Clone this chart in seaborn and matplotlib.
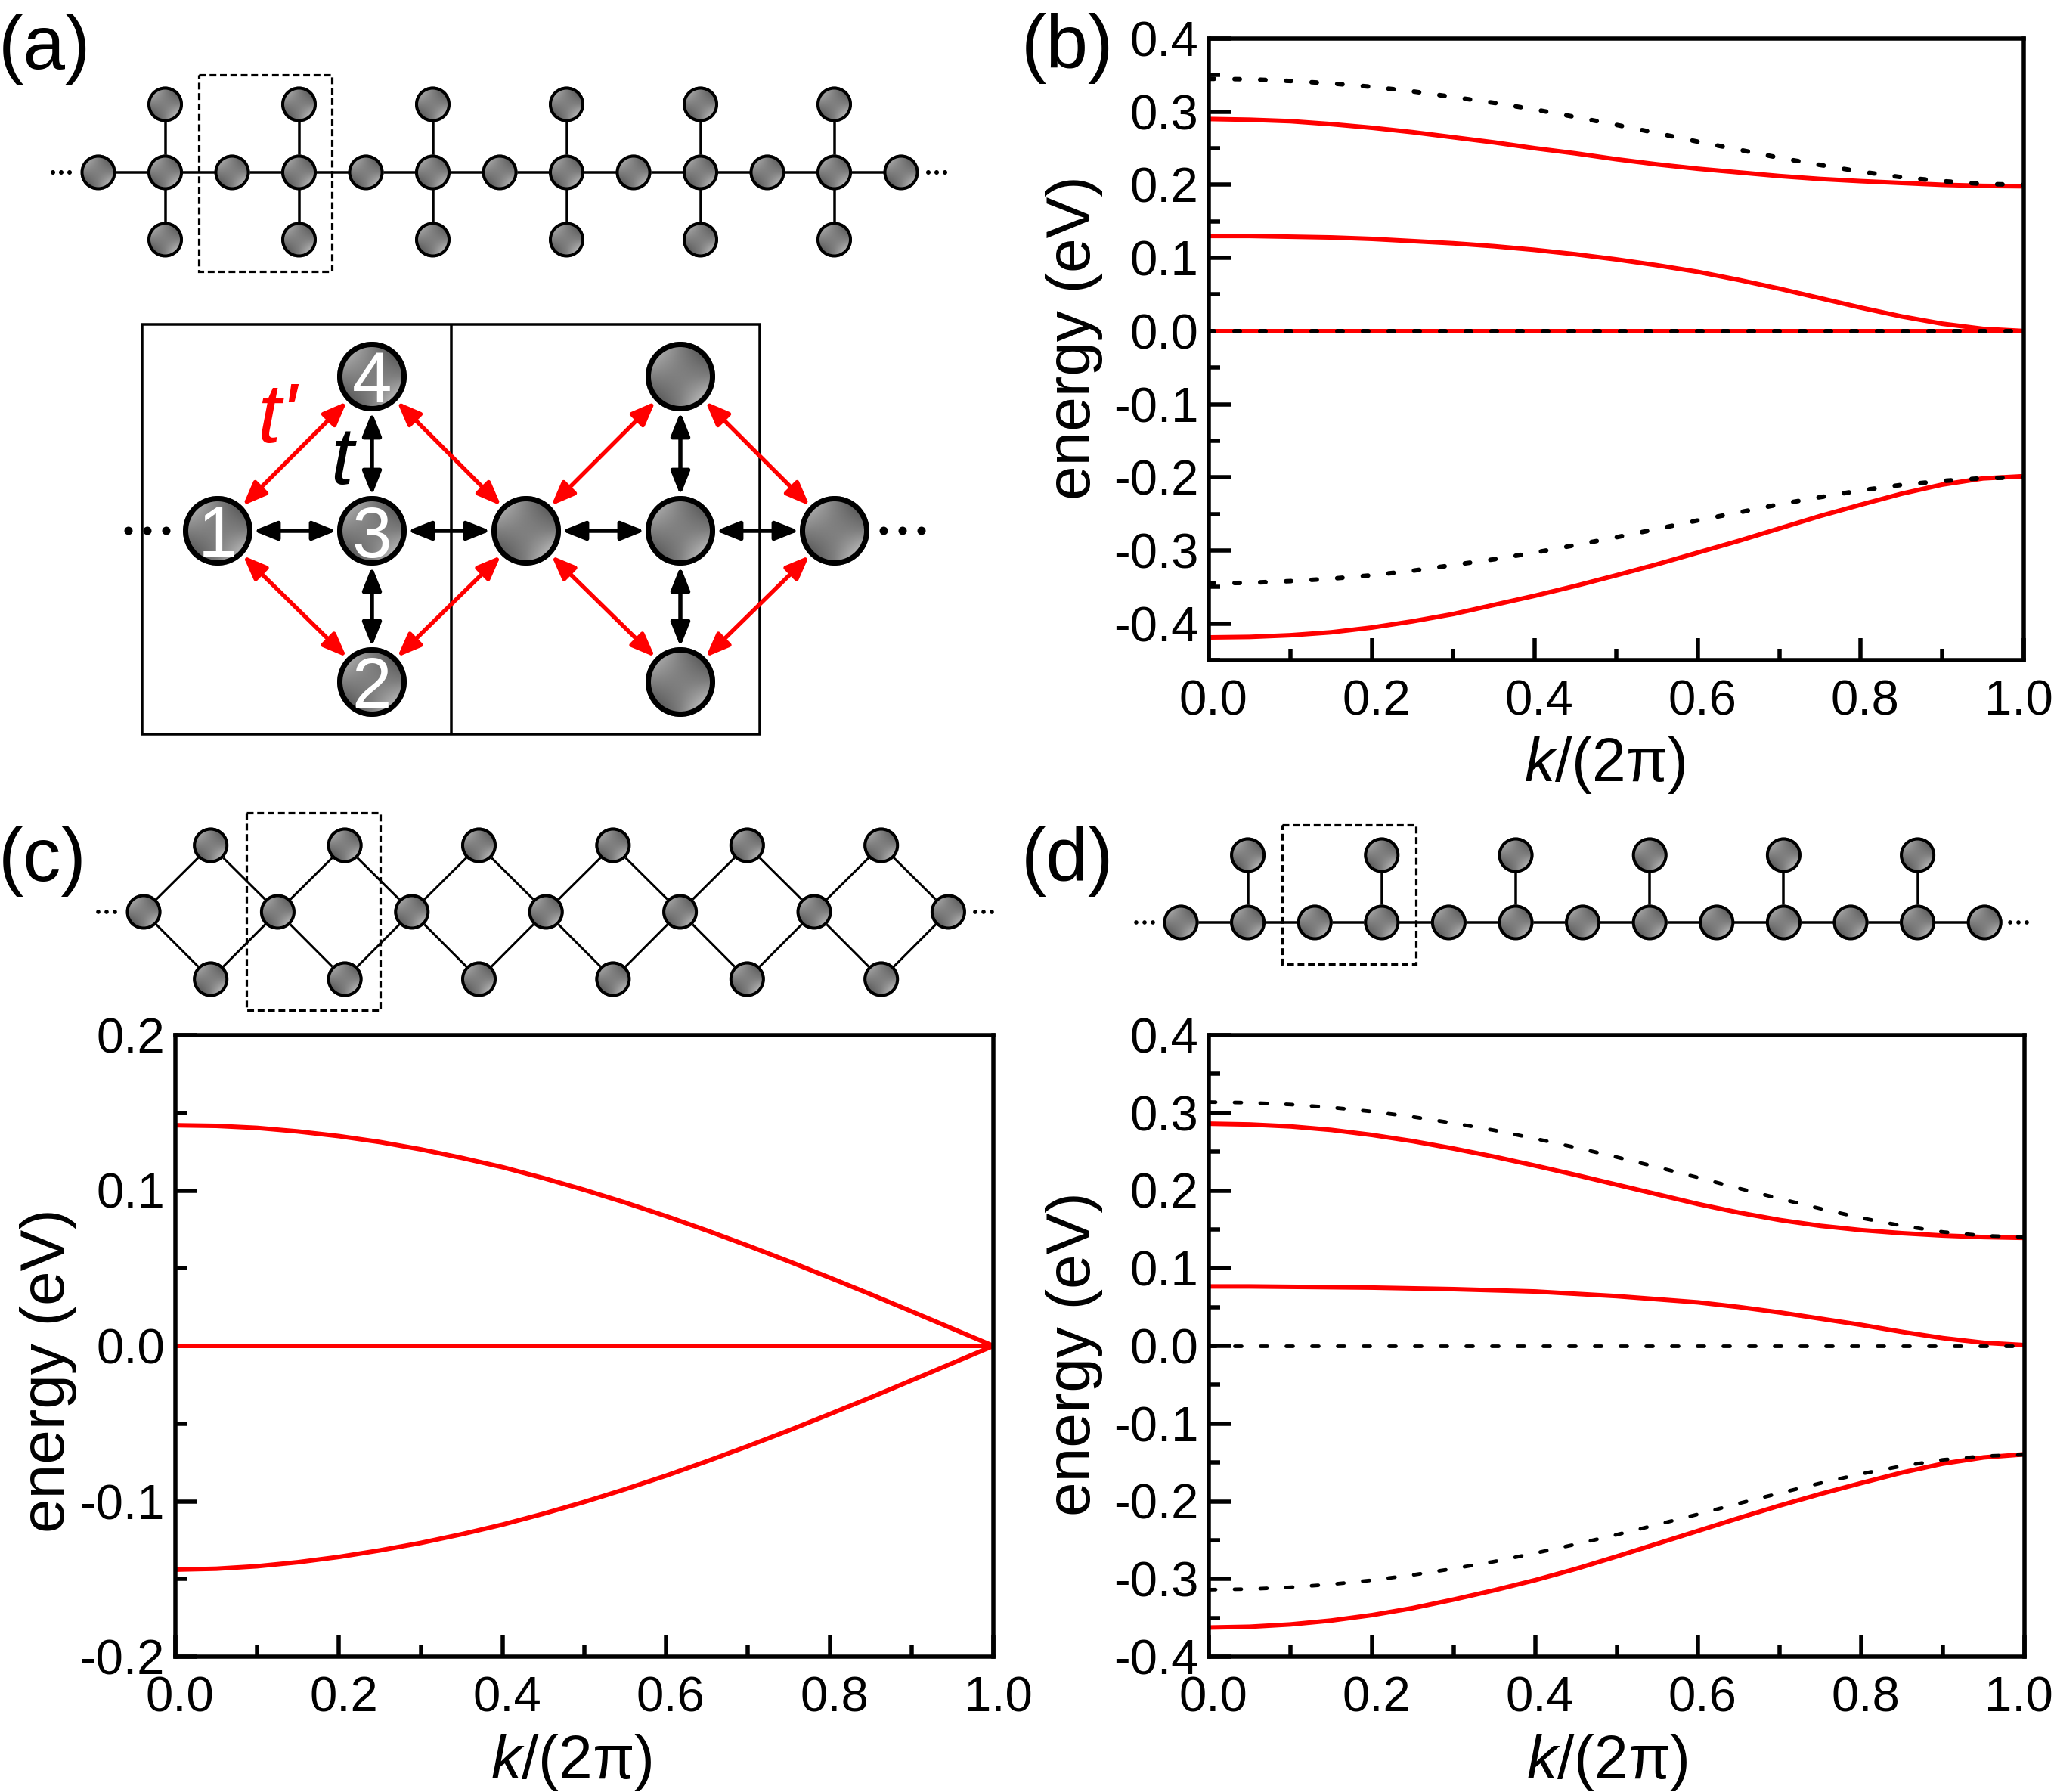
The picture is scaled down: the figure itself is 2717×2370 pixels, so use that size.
import numpy as np
import matplotlib
matplotlib.use("Agg")
import matplotlib.pyplot as plt
from matplotlib.patches import Circle, Rectangle
from matplotlib.ticker import MultipleLocator, FormatStrFormatter
from matplotlib.transforms import ScaledTranslation
import seaborn as sns

k = [0.0, 0.05, 0.1, 0.15, 0.2, 0.25, 0.3, 0.35, 0.4, 0.45, 0.5,
	0.55, 0.6, 0.65, 0.7, 0.75, 0.8, 0.85, 0.9, 0.95, 1.0]
k_flat = [0.0, 1.0]
zero_flat = [0.0, 0.0]

# panel b
b_red_top = [0.290, 0.289, 0.287, 0.283, 0.278, 0.272, 0.265, 0.258, 0.250, 0.243, 0.235,
	0.228, 0.222, 0.217, 0.212, 0.208, 0.205, 0.2025, 0.200, 0.1985, 0.198]
b_red_mid = [0.130, 0.130, 0.129, 0.128, 0.126, 0.123, 0.120, 0.116, 0.111, 0.105, 0.098,
	0.090, 0.081, 0.070, 0.058, 0.045, 0.032, 0.020, 0.010, 0.003, 0.0]
b_red_low = [-0.419, -0.4183, -0.416, -0.412, -0.4055, -0.397, -0.387, -0.3745, -0.362, -0.3485, -0.334,
	-0.319, -0.303, -0.287, -0.270, -0.253, -0.2375, -0.2225, -0.210, -0.2015, -0.1985]
b_dash_top = [0.345, 0.3443, 0.342, 0.3387, 0.334, 0.3278, 0.320, 0.3121, 0.303, 0.2927, 0.282,
	0.2707, 0.259, 0.2481, 0.237, 0.2272, 0.218, 0.2104, 0.205, 0.2012, 0.2]
b_dash_low = [-0.345, -0.3443, -0.342, -0.3387, -0.334, -0.3278, -0.320, -0.3121, -0.303, -0.2927, -0.282,
	-0.2707, -0.259, -0.2481, -0.237, -0.2272, -0.218, -0.2104, -0.205, -0.2012, -0.2]

# panel c
c_red_top = [0.142, 0.1416, 0.1403, 0.138, 0.135, 0.1312, 0.1265, 0.121, 0.115, 0.108, 0.1004,
	0.0922, 0.0835, 0.0742, 0.0645, 0.0544, 0.0439, 0.0332, 0.0222, 0.0111, 0.0]
c_red_low = [-0.144, -0.1434, -0.1418, -0.1392, -0.1358, -0.1316, -0.1268, -0.1212, -0.115, -0.108, -0.1004,
	-0.0922, -0.0835, -0.0742, -0.0645, -0.0544, -0.0439, -0.0332, -0.0222, -0.0111, 0.0]

# panel d
d_red_top = [0.286, 0.285, 0.2825, 0.278, 0.2715, 0.2635, 0.254, 0.2435, 0.232, 0.220, 0.2075,
	0.195, 0.1825, 0.1715, 0.162, 0.1545, 0.149, 0.145, 0.142, 0.140, 0.139]
d_red_mid = [0.0765, 0.0765, 0.076, 0.0755, 0.075, 0.074, 0.073, 0.0715, 0.070, 0.067, 0.064,
	0.060, 0.056, 0.050, 0.043, 0.035, 0.027, 0.018, 0.010, 0.004, 0.001]
d_red_low = [-0.3625, -0.3615, -0.3585, -0.3535, -0.3465, -0.3375, -0.3265, -0.3145, -0.3015, -0.287, -0.271,
	-0.2545, -0.238, -0.2215, -0.2055, -0.1905, -0.1765, -0.163, -0.1515, -0.1435, -0.1395]
d_dash_top = [0.3138, 0.313, 0.3107, 0.3069, 0.3016, 0.2948, 0.2867, 0.2775, 0.2668, 0.2553, 0.243,
	0.230, 0.2166, 0.2027, 0.1895, 0.1766, 0.1646, 0.1546, 0.1466, 0.1418, 0.14]
d_dash_low = [-0.3138, -0.313, -0.3107, -0.3069, -0.3016, -0.2948, -0.2867, -0.2775, -0.2668, -0.2553, -0.243,
	-0.230, -0.2166, -0.2027, -0.1895, -0.1766, -0.1646, -0.1546, -0.1466, -0.1418, -0.14]

W, H = 2717, 2370
DPI = 100
PX = 72 / DPI
RED = "#ff0000"

sns.set_theme(style="ticks")
plt.rcParams['font.family'] = ['Liberation Sans', 'DejaVu Sans']
plt.rcParams['axes.unicode_minus'] = False
plt.rcParams['mathtext.fontset'] = 'custom'
plt.rcParams['mathtext.rm'] = 'Liberation Sans'
plt.rcParams['mathtext.it'] = 'Liberation Sans:italic'

fig = plt.figure(figsize=(W / DPI, H / DPI), dpi=DPI, facecolor="white")


def band_axes(box, ylim, xlabel_px, ylabel_px, last_shift=6):
	x0, y0, x1, y1 = box
	ax = fig.add_axes([x0 / W, 1 - y1 / H, (x1 - x0) / W, (y1 - y0) / H])
	ax.set_xlim(0, 1)
	ax.set_ylim(*ylim)
	ax.xaxis.set_major_locator(MultipleLocator(0.2))
	ax.xaxis.set_minor_locator(MultipleLocator(0.1))
	ax.yaxis.set_major_locator(MultipleLocator(0.1))
	ax.yaxis.set_minor_locator(MultipleLocator(0.05))
	ax.xaxis.set_major_formatter(FormatStrFormatter('%.1f'))
	ax.yaxis.set_major_formatter(FormatStrFormatter('%.1f'))
	ax.tick_params(which='major', direction='in', length=29 * PX, width=5.5 * PX, color='black')
	ax.tick_params(which='minor', direction='in', length=15 * PX, width=5.5 * PX, color='black')
	ax.tick_params(axis='x', which='major', labelsize=47, pad=26 * PX, labelcolor='black')
	ax.tick_params(axis='y', which='major', labelsize=47, pad=14 * PX, labelcolor='black')
	# tick labels sit a little right of their ticks; the last one has to stay on the canvas
	locs = ax.get_xticks()
	for tick, loc in zip(ax.xaxis.get_major_ticks(len(locs)), locs):
		shift = last_shift if abs(loc - 1.0) < 1e-6 else 6
		lab = tick.label1
		lab.set_transform(lab.get_transform() + ScaledTranslation(shift / DPI, 0, fig.dpi_scale_trans))
	for side in ax.spines.values():
		side.set_linewidth(5.5 * PX)
		side.set_color('black')
	ax.set_xlabel(r'$\mathit{k/}$(2π)', fontsize=58, va='center', ha='center', color='black')
	ax.set_ylabel('energy (eV)', fontsize=59, va='center', ha='center', color='black')
	ax.xaxis.set_label_coords((xlabel_px[0] - x0) / (x1 - x0), (y1 - xlabel_px[1]) / (y1 - y0))
	ax.yaxis.set_label_coords((ylabel_px[0] - x0) / (x1 - x0), (y1 - ylabel_px[1]) / (y1 - y0))
	return ax


def red_line(ax, x, y, lw=6):
	sns.lineplot(x=x, y=y, ax=ax, color=RED, linewidth=lw * PX, errorbar=None, legend=False)


def dash_line(ax, x, y, lw=6, on=7):
	sns.lineplot(x=x, y=y, ax=ax, color='black', linewidth=lw * PX, errorbar=None, legend=False,
		linestyle=(0, (on / lw, (34 - on) / lw)), dash_capstyle='round', zorder=3)


ax_b = band_axes((1599, 51, 2677, 873), (-0.45, 0.4), (2123, 1012), (1421, 447), last_shift=-7)
for vals in (b_dash_top, b_dash_low):
	dash_line(ax_b, k, vals)
for vals in (b_red_top, b_red_mid, b_red_low):
	red_line(ax_b, k, vals)
red_line(ax_b, k_flat, zero_flat)
dash_line(ax_b, k_flat, zero_flat)

ax_c = band_axes((232, 1369, 1314, 2191), (-0.2, 0.2), (756, 2331), (64, 1813))
for vals in (c_red_top, c_red_low):
	red_line(ax_c, k, vals)
red_line(ax_c, k_flat, zero_flat)

ax_d = band_axes((1599, 1369, 2678, 2191), (-0.4, 0.4), (2126, 2331), (1421, 1791), last_shift=-8)
for vals in (d_dash_top, d_dash_low):
	dash_line(ax_d, k, vals, 4.8, 9)
dash_line(ax_d, k_flat, zero_flat, 4.8, 9)
for vals in (d_red_top, d_red_mid, d_red_low):
	red_line(ax_d, k, vals)

# schematics live on a full figure overlay in pixel coordinates
ov = fig.add_axes([0, 0, 1, 1], facecolor='none')
ov.axis('off')

grid = np.linspace(-1, 1, 48)
gx, gy = np.meshgrid(grid, grid)
xy = gx * gy
shade = 0.5 + np.where(xy < 0, 0.34, np.where(gx + gy > 0, 0.52, 0.38)) * xy


def site(x, y, r, edge):
	img = ov.imshow(shade, extent=(x - r, x + r, y + r, y - r), cmap='gray', vmin=0, vmax=1,
		interpolation='bilinear', aspect='auto', zorder=3)
	patch = Circle((x, y), r, transform=ov.transData, facecolor='none', edgecolor='none')
	ov.add_patch(patch)
	img.set_clip_path(patch)
	ov.add_patch(Circle((x, y), r - edge / 2, facecolor='none', edgecolor='black', linewidth=edge * PX, zorder=4))


def bond(x0, y0, x1, y1, lw=3.5):
	ov.plot([x0, x1], [y0, y1], color='black', lw=lw * PX, zorder=2, solid_capstyle='butt')


def dots(xs, y, r):
	for x in xs:
		ov.add_patch(Circle((x, y), r, facecolor='black', edgecolor='none', zorder=2))


def dashed_box(x0, y0, x1, y1):
	ov.add_patch(Rectangle((x0, y0), x1 - x0, y1 - y0, fill=False, edgecolor='black',
		linewidth=3.2 * PX, linestyle=(0, (2.8, 1.5)), zorder=1))


def arrow(a, b, color, trim=47):
	a = np.array(a, dtype=float)
	b = np.array(b, dtype=float)
	n = (b - a) / np.hypot(*(b - a))
	ov.annotate('', xy=b - n * trim, xytext=a + n * trim, zorder=5,
		arrowprops=dict(arrowstyle='<|-|>,head_length=1.05,head_width=0.42', mutation_scale=18,
			color=color, lw=5.5 * PX, shrinkA=0, shrinkB=0))


# (a) chain
R = 23.5
y_mid, y_up, y_dn = 228, 138, 317
a_x = [130 + 88.5 * i for i in range(13)]
bond(a_x[0], y_mid, a_x[-1], y_mid)
for x in a_x[1::2]:
	bond(x, y_up, x, y_dn)
	site(x, y_up, R, 4)
	site(x, y_dn, R, 4)
for x in a_x:
	site(x, y_mid, R, 4)
dots([70, 81, 92], y_mid, 3)
dots([1228, 1239, 1250], y_mid, 3)
dashed_box(263, 99, 439, 359)

# (a) inset
ov.add_patch(Rectangle((188, 429), 817, 542, fill=False, edgecolor='black', linewidth=3.5 * PX, zorder=1))
bond(597, 429, 597, 971)
inset_x = [288, 492, 696, 900, 1104]
iy_mid, iy_up, iy_dn = 702, 498, 902
for x0, x1 in zip(inset_x[:-1], inset_x[1:]):
	arrow((x0, iy_mid), (x1, iy_mid), 'black')
for x in (inset_x[1], inset_x[3]):
	arrow((x, iy_up), (x, iy_mid), 'black')
	arrow((x, iy_mid), (x, iy_dn), 'black')
	for x_side in (x - 204, x + 204):
		arrow((x_side, iy_mid), (x, iy_up), RED)
		arrow((x_side, iy_mid), (x, iy_dn), RED)
	site(x, iy_up, 46, 7)
	site(x, iy_dn, 46, 7)
for x in inset_x:
	site(x, iy_mid, 46, 7)
dots([170, 195, 220], iy_mid, 5.5)
dots([1169, 1194, 1219], iy_mid, 5.5)
for lab, (x, y) in zip("1234", [(288, 702), (492, 902), (492, 702), (492, 498)]):
	ov.text(x, y, lab, color='white', fontsize=68, ha='center', va='center_baseline', zorder=6)
ov.text(367, 556, "t'", color=RED, fontsize=80, style='italic', ha='center', va='center', zorder=6)
ov.text(452, 612, "t", color='black', fontsize=78, style='italic', ha='center', va='center', zorder=6)

# (c) chain
c_x = [190 + 177.4 * i for i in range(7)]
cy_mid, cy_up, cy_dn = 1206, 1118, 1295
for x0, x1 in zip(c_x[:-1], c_x[1:]):
	xm = (x0 + x1) / 2
	bond(x0, cy_mid, xm, cy_up, 3)
	bond(x0, cy_mid, xm, cy_dn, 3)
	bond(xm, cy_up, x1, cy_mid, 3)
	bond(xm, cy_dn, x1, cy_mid, 3)
	site(xm, cy_up, R, 4)
	site(xm, cy_dn, R, 4)
for x in c_x:
	site(x, cy_mid, R, 4)
dots([130, 141, 152], cy_mid, 2.8)
dots([1290, 1301, 1312], cy_mid, 2.8)
dashed_box(326, 1075, 503, 1336)

# (d) chain
d_x = [1562 + 88.6 * i for i in range(13)]
dy_mid, dy_up = 1220, 1131
bond(d_x[0], dy_mid, d_x[-1], dy_mid)
for x in d_x[1::2]:
	bond(x, dy_up, x, dy_mid)
	site(x, dy_up, R, 4)
for x in d_x:
	site(x, dy_mid, R, 4)
dots([1503, 1514, 1525], dy_mid, 2.8)
dots([2659, 2670, 2681], dy_mid, 2.8)
dashed_box(1696, 1091, 1873, 1275)

for lab, x, y in [("(a)", -2, 65), ("(b)", 1351, 64), ("(c)", -2, 1139), ("(d)", 1351, 1139)]:
	ov.text(x, y, lab, fontsize=72, color='black', ha='left', va='center', zorder=6)

ov.set_xlim(0, W)
ov.set_ylim(H, 0)

fig.savefig("out.png", dpi=DPI, facecolor="white")
plt.close(fig)
